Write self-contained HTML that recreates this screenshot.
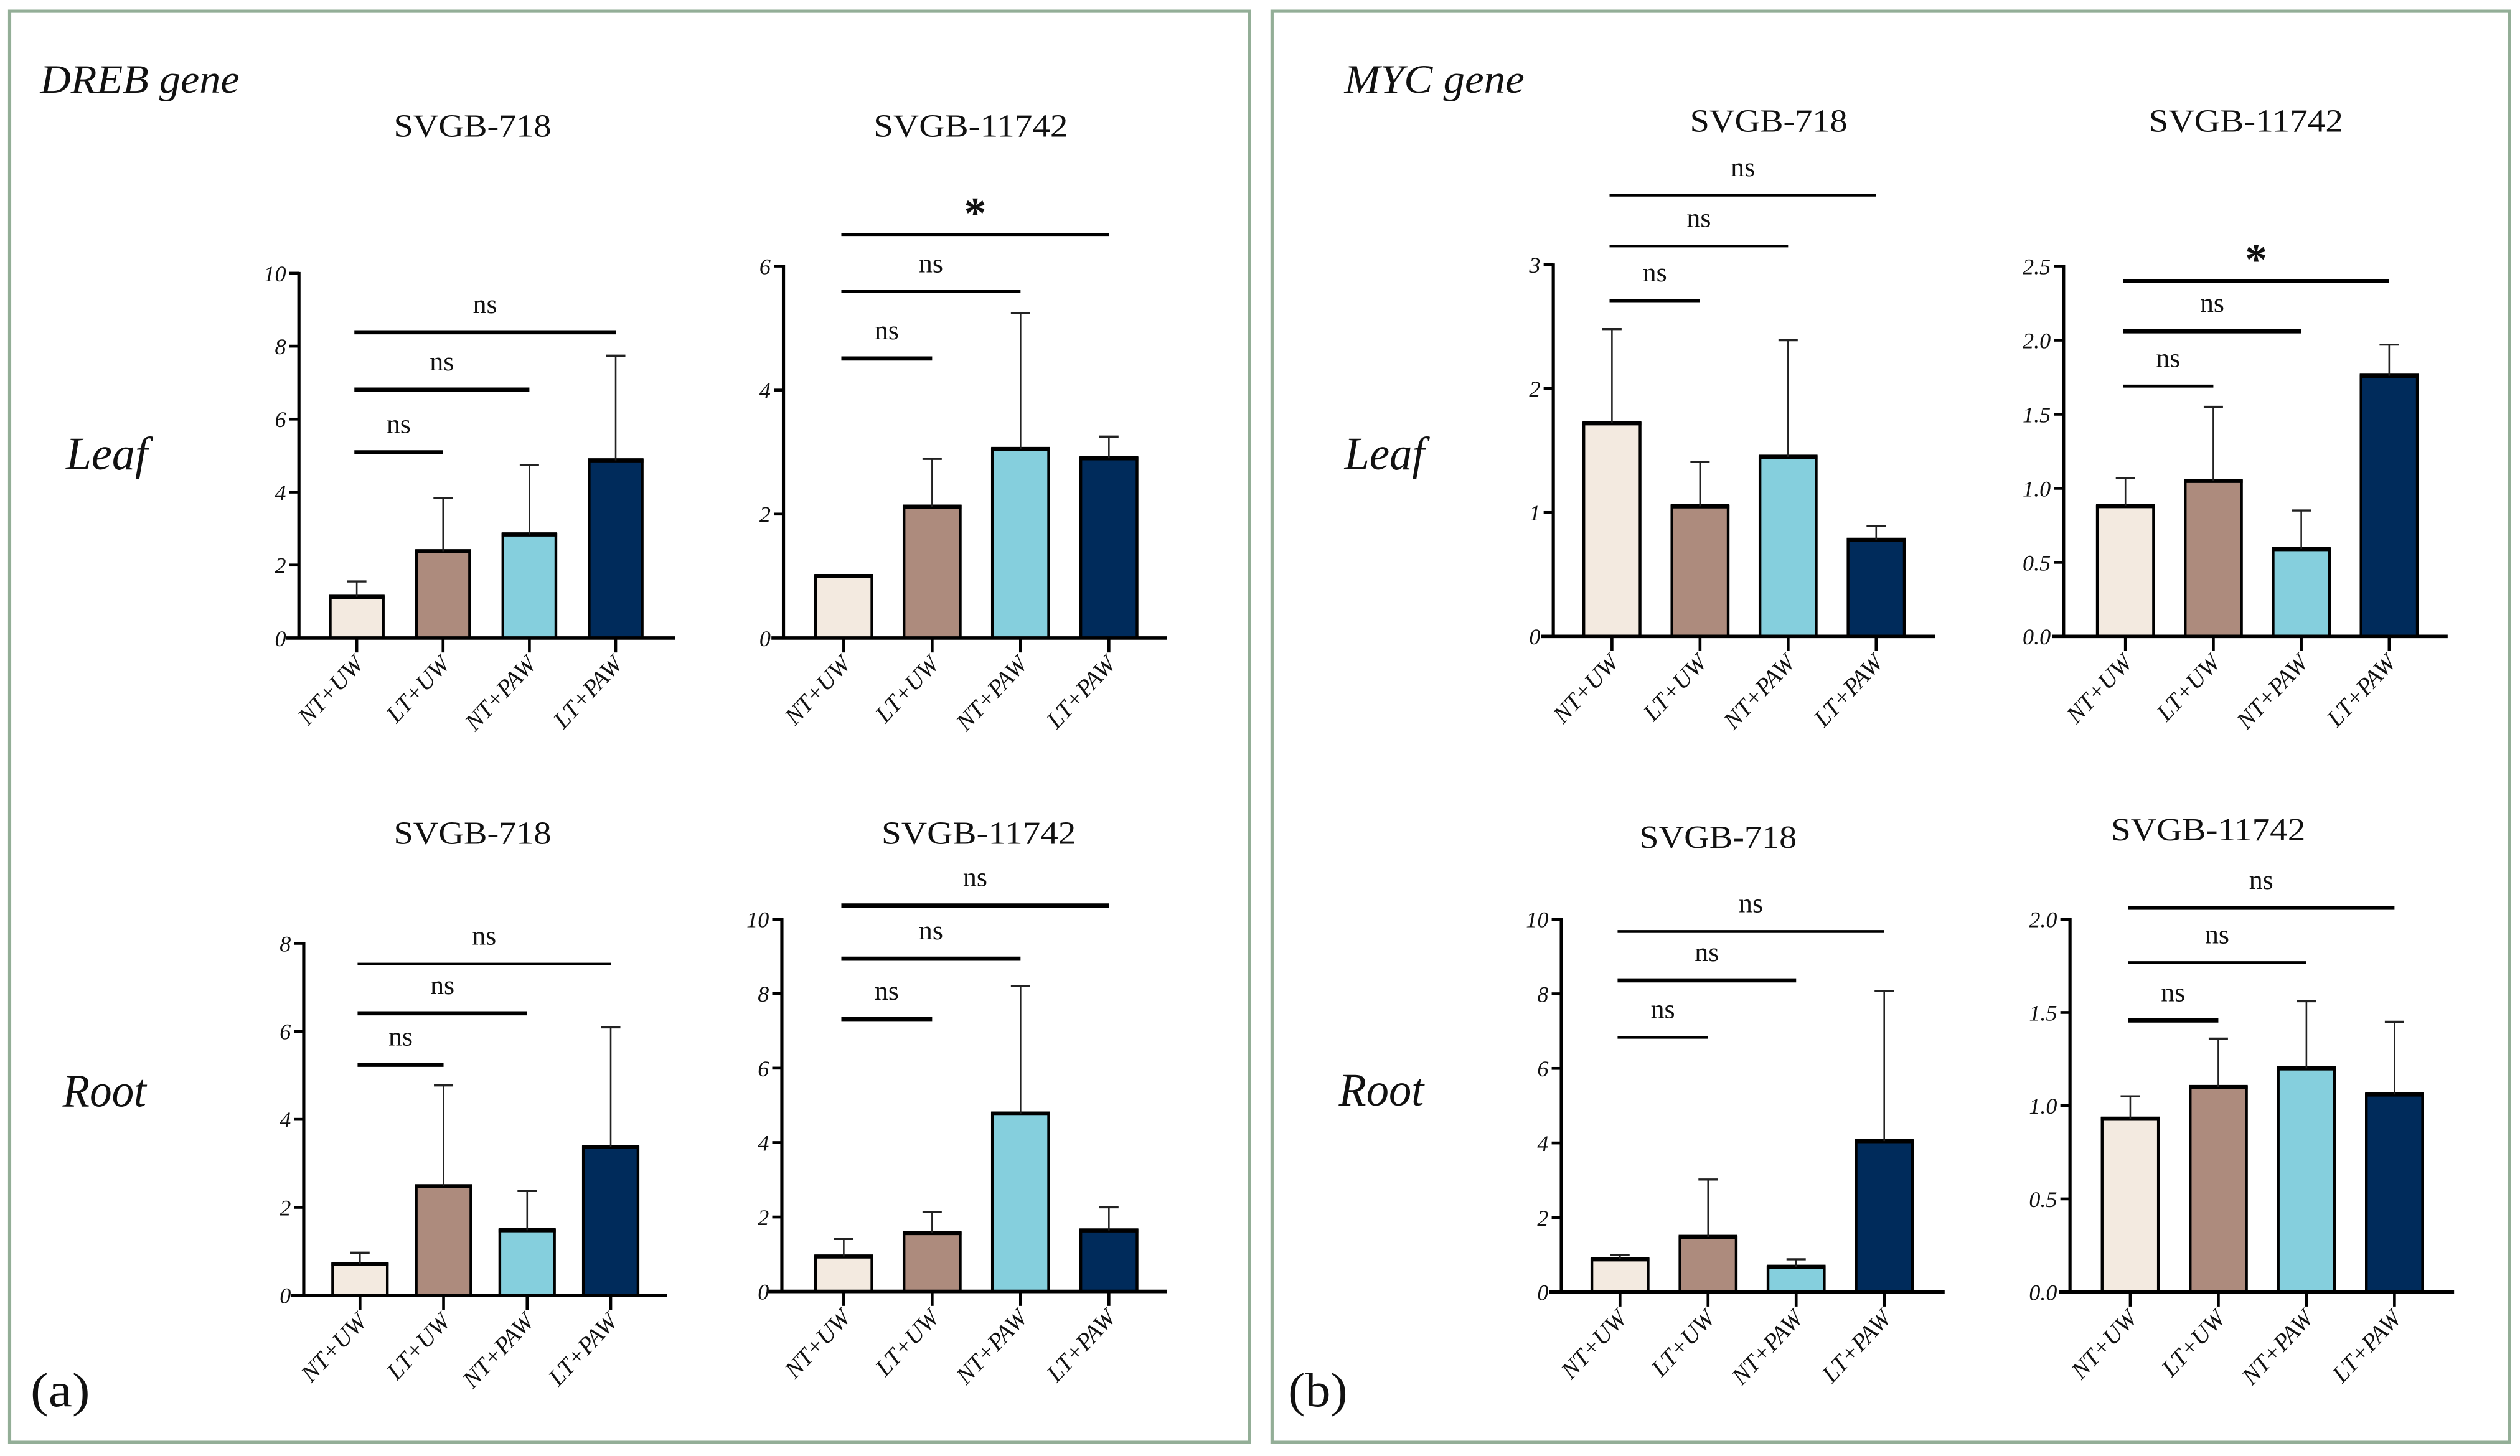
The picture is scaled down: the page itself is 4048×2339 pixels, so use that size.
<!DOCTYPE html>
<html><head><meta charset="utf-8"><style>
html,body{margin:0;padding:0;background:#fff;}
svg{display:block;}
text{font-family:"Liberation Serif",serif;fill:#111;}
</style></head><body>
<svg id="fig" width="4048" height="2339" viewBox="0 0 1568 906" preserveAspectRatio="none" xmlns="http://www.w3.org/2000/svg">
<rect x="0" y="0" width="1568" height="906" fill="#fff"/>
<rect x="6" y="7" width="771.5" height="890.5" fill="none" stroke="#93ae97" stroke-width="2"/>
<rect x="791.5" y="7" width="770" height="890.5" fill="none" stroke="#93ae97" stroke-width="2"/>
<text x="25" y="57.8" font-size="25" font-style="italic" textLength="124" lengthAdjust="spacingAndGlyphs">DREB gene</text>
<text x="836.5" y="57.8" font-size="25" font-style="italic" textLength="112" lengthAdjust="spacingAndGlyphs">MYC gene</text>
<text x="41" y="292" font-size="29" font-style="italic" textLength="51" lengthAdjust="spacingAndGlyphs">Leaf</text>
<text x="836.5" y="292" font-size="29" font-style="italic" textLength="50" lengthAdjust="spacingAndGlyphs">Leaf</text>
<text x="39" y="688.5" font-size="29" font-style="italic" textLength="52" lengthAdjust="spacingAndGlyphs">Root</text>
<text x="833" y="688" font-size="29" font-style="italic" textLength="53" lengthAdjust="spacingAndGlyphs">Root</text>
<text x="19" y="875" font-size="30" textLength="37" lengthAdjust="spacingAndGlyphs">(a)</text>
<text x="801.5" y="875" font-size="30" textLength="37" lengthAdjust="spacingAndGlyphs">(b)</text>
<g id="charts"></g>
</svg>
<script>
const categories = ["NT+UW","LT+UW","NT+PAW","LT+PAW"];
const colors = ["#f3eae0","#ad8b7d","#85cfdd","#002b5b"];

// DREB leaf SVGB-718
const drebLeaf718Values = [1.13, 2.38, 2.84, 4.87];
const drebLeaf718Errors = [0.42, 1.46, 1.9, 2.87];
const drebLeaf718Ticks = [0, 2, 4, 6, 8, 10];
const drebLeaf718TickLabels = ["0","2","4","6","8","10"];
const drebLeaf718Sig = [5.09, 6.81, 8.38];
const drebLeaf718SigLabels = ["ns","ns","ns"];
// DREB leaf SVGB-11742
const drebLeaf11742Values = [1.0, 2.12, 3.05, 2.9];
const drebLeaf11742Errors = [0, 0.77, 2.19, 0.35];
const drebLeaf11742Ticks = [0, 2, 4, 6];
const drebLeaf11742TickLabels = ["0","2","4","6"];
const drebLeaf11742Sig = [4.51, 5.59, 6.51];
const drebLeaf11742SigLabels = ["ns","ns","*"];
// DREB root SVGB-718
const drebRoot718Values = [0.71, 2.48, 1.48, 3.37];
const drebRoot718Errors = [0.26, 2.29, 0.89, 2.72];
const drebRoot718Ticks = [0, 2, 4, 6, 8];
const drebRoot718TickLabels = ["0","2","4","6","8"];
const drebRoot718Sig = [5.24, 6.41, 7.53];
const drebRoot718SigLabels = ["ns","ns","ns"];
// DREB root SVGB-11742
const drebRoot11742Values = [0.94, 1.57, 4.78, 1.64];
const drebRoot11742Errors = [0.47, 0.56, 3.42, 0.62];
const drebRoot11742Ticks = [0, 2, 4, 6, 8, 10];
const drebRoot11742TickLabels = ["0","2","4","6","8","10"];
const drebRoot11742Sig = [7.32, 8.94, 10.37];
const drebRoot11742SigLabels = ["ns","ns","ns"];
// MYC leaf SVGB-718
const mycLeaf718Values = [1.72, 1.05, 1.45, 0.78];
const mycLeaf718Errors = [0.76, 0.36, 0.94, 0.11];
const mycLeaf718Ticks = [0, 1, 2, 3];
const mycLeaf718TickLabels = ["0","1","2","3"];
const mycLeaf718Sig = [2.71, 3.15, 3.56];
const mycLeaf718SigLabels = ["ns","ns","ns"];
// MYC leaf SVGB-11742
const mycLeaf11742Values = [0.88, 1.05, 0.59, 1.76];
const mycLeaf11742Errors = [0.19, 0.5, 0.26, 0.21];
const mycLeaf11742Ticks = [0, 0.5, 1.0, 1.5, 2.0, 2.5];
const mycLeaf11742TickLabels = ["0.0","0.5","1.0","1.5","2.0","2.5"];
const mycLeaf11742Sig = [1.69, 2.06, 2.40];
const mycLeaf11742SigLabels = ["ns","ns","*"];
// MYC root SVGB-718
const mycRoot718Values = [0.88, 1.48, 0.68, 4.05];
const mycRoot718Errors = [0.12, 1.54, 0.2, 4.02];
const mycRoot718Ticks = [0, 2, 4, 6, 8, 10];
const mycRoot718TickLabels = ["0","2","4","6","8","10"];
const mycRoot718Sig = [6.83, 8.36, 9.67];
const mycRoot718SigLabels = ["ns","ns","ns"];
// MYC root SVGB-11742
const mycRoot11742Values = [0.93, 1.1, 1.2, 1.06];
const mycRoot11742Errors = [0.12, 0.26, 0.36, 0.39];
const mycRoot11742Ticks = [0, 0.5, 1.0, 1.5, 2.0];
const mycRoot11742TickLabels = ["0.0","0.5","1.0","1.5","2.0"];
const mycRoot11742Sig = [1.457, 1.767, 2.06];
const mycRoot11742SigLabels = ["ns","ns","ns"];

const NS = "http://www.w3.org/2000/svg";
const root = document.getElementById("charts");
function el(tag, attrs, parent){
  const e = document.createElementNS(NS, tag);
  for (const k in attrs) e.setAttribute(k, attrs[k]);
  (parent||root).appendChild(e);
  return e;
}

const charts = [
  {id:"dreb-leaf-718", title:"SVGB-718", tx:294, ty:85, tl:98, values:drebLeaf718Values, errors:drebLeaf718Errors, ticks:drebLeaf718Ticks, tickLabels:drebLeaf718TickLabels, sig:drebLeaf718Sig, sigLabels:drebLeaf718SigLabels,
   ax:186, y0:397, yTop:170, yMax:10, xStart:178, xEnd:420, c0:222, step:53.7, bw:33, sw:[2.6,2.6,2.6]},
  {id:"dreb-leaf-11742", title:"SVGB-11742", tx:604, ty:85, tl:121, values:drebLeaf11742Values, errors:drebLeaf11742Errors, ticks:drebLeaf11742Ticks, tickLabels:drebLeaf11742TickLabels, sig:drebLeaf11742Sig, sigLabels:drebLeaf11742SigLabels,
   ax:487.5, y0:397, yTop:165.6, yMax:6, xStart:480, xEnd:726, c0:525, step:55, bw:35, sw:[2.6,1.8,1.8]},
  {id:"dreb-root-718", title:"SVGB-718", tx:294, ty:525, tl:98, values:drebRoot718Values, errors:drebRoot718Errors, ticks:drebRoot718Ticks, tickLabels:drebRoot718TickLabels, sig:drebRoot718Sig, sigLabels:drebRoot718SigLabels,
   ax:189, y0:806, yTop:587, yMax:8, xStart:181, xEnd:415, c0:224, step:52, bw:34, sw:[2.6,2.6,1.6]},
  {id:"dreb-root-11742", title:"SVGB-11742", tx:609, ty:525, tl:121, values:drebRoot11742Values, errors:drebRoot11742Errors, ticks:drebRoot11742Ticks, tickLabels:drebRoot11742TickLabels, sig:drebRoot11742Sig, sigLabels:drebRoot11742SigLabels,
   ax:486.5, y0:803.6, yTop:572, yMax:10, xStart:477, xEnd:726, c0:525, step:55, bw:35, sw:[2.6,2.6,2.6]},
  {id:"myc-leaf-718", title:"SVGB-718", tx:1100.5, ty:82, tl:98, values:mycLeaf718Values, errors:mycLeaf718Errors, ticks:mycLeaf718Ticks, tickLabels:mycLeaf718TickLabels, sig:mycLeaf718Sig, sigLabels:mycLeaf718SigLabels,
   ax:966.5, y0:396, yTop:164.7, yMax:3, xStart:959, xEnd:1204, c0:1003, step:54.8, bw:35, sw:[2,1.6,1.6]},
  {id:"myc-leaf-11742", title:"SVGB-11742", tx:1397.5, ty:82, tl:121, values:mycLeaf11742Values, errors:mycLeaf11742Errors, ticks:mycLeaf11742Ticks, tickLabels:mycLeaf11742TickLabels, sig:mycLeaf11742Sig, sigLabels:mycLeaf11742SigLabels,
   ax:1284, y0:396, yTop:165.6, yMax:2.5, xStart:1277, xEnd:1523, c0:1322.5, step:54.7, bw:35, sw:[1.8,2.6,2.6]},
  {id:"myc-root-718", title:"SVGB-718", tx:1069, ty:527.6, tl:98, values:mycRoot718Values, errors:mycRoot718Errors, ticks:mycRoot718Ticks, tickLabels:mycRoot718TickLabels, sig:mycRoot718Sig, sigLabels:mycRoot718SigLabels,
   ax:971.5, y0:804, yTop:572, yMax:10, xStart:964, xEnd:1210, c0:1008, step:54.8, bw:35, sw:[1.6,2.6,1.8]},
  {id:"myc-root-11742", title:"SVGB-11742", tx:1374, ty:523, tl:121, values:mycRoot11742Values, errors:mycRoot11742Errors, ticks:mycRoot11742Ticks, tickLabels:mycRoot11742TickLabels, sig:mycRoot11742Sig, sigLabels:mycRoot11742SigLabels,
   ax:1288, y0:804, yTop:572, yMax:2.0, xStart:1281, xEnd:1527, c0:1325.5, step:54.8, bw:35, sw:[2.6,1.8,2.2]}
];

charts.forEach(ch => {
  const g = el("g", {});
  
  
  const ys = v => ch.y0 - (v / ch.yMax) * (ch.y0 - ch.yTop);
  const xs = i => ch.c0 + i * ch.step;

  const t = el("text", {x:ch.tx, y:ch.ty, "font-size":20, "text-anchor":"middle", textLength:ch.tl, lengthAdjust:"spacingAndGlyphs"}, g);
  t.textContent = ch.title;
  
  

  ch.values.forEach((v, i) => {
    const x = xs(i) - ch.bw / 2, y = ys(v);
    const r = el("rect", {x:x, y:y, width:ch.bw, height:ch.y0 - y, fill:colors[i], stroke:"#000", "stroke-width":1.7}, g);
    
    
    el("line", {x1:x - 0.8, x2:x + ch.bw + 0.8, y1:y, y2:y, stroke:"#000", "stroke-width":2.6}, g);
    const e = ch.errors[i];
    if (e > 0) {
      const ye = ys(v + e);
      const eb = el("line", {x1:xs(i), x2:xs(i), y1:y, y2:ye, stroke:"#222", "stroke-width":1}, g);
      
      
      el("line", {x1:xs(i) - 6, x2:xs(i) + 6, y1:ye, y2:ye, stroke:"#222", "stroke-width":1.3}, g);
    }
  });

  const ya = el("line", {x1:ch.ax, x2:ch.ax, y1:ch.y0 + 1, y2:ch.yTop - 0.8, stroke:"#000", "stroke-width":2}, g);
  
  
  const xa = el("line", {x1:ch.xStart, x2:ch.xEnd, y1:ch.y0, y2:ch.y0, stroke:"#000", "stroke-width":2.2}, g);
  
  

  ch.ticks.forEach((tv, i) => {
    const y = ys(tv);
    el("line", {x1:ch.ax - 6, x2:ch.ax, y1:y, y2:y, stroke:"#000", "stroke-width":1.8}, g);
    const tl = el("text", {x:ch.ax - 8, y:y + 5, "font-size":14, "font-style":"italic", "text-anchor":"end"}, g);
    tl.textContent = ch.tickLabels[i];
    
    
  });

  categories.forEach((c, i) => {
    const x = xs(i);
    el("line", {x1:x, x2:x, y1:ch.y0, y2:ch.y0 + 9, stroke:"#000", "stroke-width":1.8}, g);
    const lx = x + 5, ly = ch.y0 + 17;
    const cl = el("text", {x:lx, y:ly, "font-size":15, "font-style":"italic", "text-anchor":"end", transform:"rotate(-47 " + lx + " " + ly + ")"}, g);
    cl.textContent = c;
    
    
  });

  ch.sig.forEach((sv, j) => {
    const y = ys(sv);
    const x1 = xs(0) - 1.5, x2 = xs(j + 1);
    const sl = el("line", {x1:x1, x2:x2, y1:y, y2:y, stroke:"#000", "stroke-width":ch.sw[j]}, g);
    
    
    const lab = ch.sigLabels[j];
    const star = lab === "*";
    const st = el("text", {x:(x1 + x2) / 2, y:star ? y - 4 : y - 12, "font-size":star ? 28 : 17, "font-weight":star ? "bold" : "normal", "text-anchor":"middle"}, g);
    st.textContent = lab;
    
    
  });
});
</script>
</body></html>
